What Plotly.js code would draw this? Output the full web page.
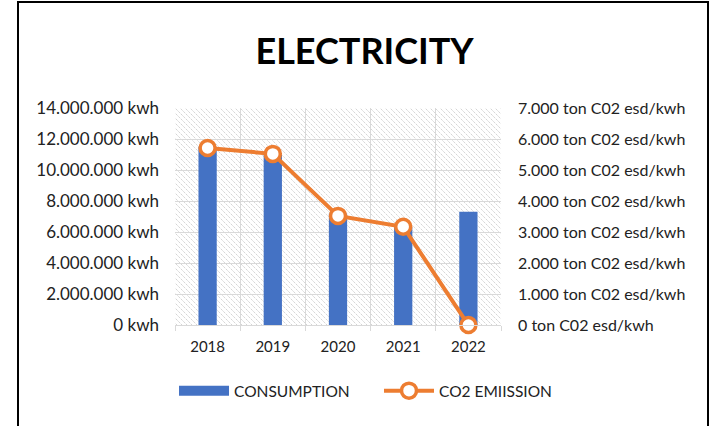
<!DOCTYPE html>
<html>
<head>
<meta charset="utf-8">
<script src="https://cdn.plot.ly/plotly-3.0.1.min.js"></script>
<style>
html,body{margin:0;padding:0;background:#fff;}
#wrap{position:relative;width:712px;height:426px;overflow:hidden;}
#chart{width:712px;height:426px;}
#frame{position:absolute;left:17px;top:1px;width:692px;height:460px;border:2px solid #000;box-sizing:border-box;pointer-events:none;}
</style>
</head>
<body>
<div id="wrap"><div id="chart"></div><div id="frame"></div></div>
<script>
const years = ['2018','2019','2020','2021','2022'];
const consumption = [11500000, 11100000, 7200000, 6300000, 7300000];
const co2 = [5710, 5520, 3520, 3170, 0];
const leftTicks = [0,2000000,4000000,6000000,8000000,10000000,12000000,14000000];
const leftTickText = ['0 kwh','2.000.000 kwh','4.000.000 kwh','6.000.000 kwh','8.000.000 kwh','10.000.000 kwh','12.000.000 kwh','14.000.000 kwh'];
const rightTicks = [0,1000,2000,3000,4000,5000,6000,7000];
const rightTickText = ['0 ton C02 esd/kwh','1.000 ton C02 esd/kwh','2.000 ton C02 esd/kwh','3.000 ton C02 esd/kwh','4.000 ton C02 esd/kwh','5.000 ton C02 esd/kwh','6.000 ton C02 esd/kwh','7.000 ton C02 esd/kwh'];

const blue = '#4472C4';
const orange = '#ED7D31';
const font = 'Lato, "Open Sans", sans-serif';

const svg = '<svg xmlns="http://www.w3.org/2000/svg" width="326" height="217" viewBox="0 0 326 217" preserveAspectRatio="none">' +
  '<defs><pattern id="p" width="5" height="5" patternUnits="userSpaceOnUse">' +
  '<path d="M-1,-1 L6,6 M-1,4 L1,6 M4,-1 L6,1" stroke="#c6c6c6" stroke-width="1" stroke-dasharray="1.4,1.1"/>' +
  '</pattern></defs><rect width="326" height="217" fill="url(#p)"/></svg>';
const img = 'data:image/svg+xml;base64,' + btoa(svg);

const traces = [
  {
    type: 'bar', x: years, y: consumption, name: 'CONSUMPTION',
    marker: {color: blue}, width: 0.28, showlegend: false, yaxis: 'y'
  },
  {
    type: 'scatter', mode: 'lines', x: [null], y: [null], name: 'CONSUMPTION',
    line: {color: blue, width: 10}, showlegend: true, legend: 'legend', hoverinfo: 'skip', yaxis: 'y'
  },
  {
    type: 'scatter', mode: 'lines+markers', x: years, y: co2, name: 'CO2 EMIISSION',
    yaxis: 'y2', cliponaxis: false, legend: 'legend2',
    line: {color: orange, width: 4},
    marker: {size: 15, color: '#ffffff', line: {color: orange, width: 3.5}}
  }
];

const legendBase = {
  orientation: 'h', xref: 'container', yref: 'container',
  xanchor: 'left', y: 0.082, yanchor: 'middle',
  bgcolor: 'rgba(0,0,0,0)',
  font: {family: font, size: 15.5, color: '#222222'},
  itemwidth: 50
};

const layout = {
  width: 712, height: 426,
  margin: {l: 175, r: 211, t: 108, b: 101},
  paper_bgcolor: '#ffffff', plot_bgcolor: 'rgba(0,0,0,0)',
  separators: ',.',
  font: {family: font, size: 16, color: '#222222'},
  title: {
    text: '<b>ELECTRICITY</b>',
    font: {family: font, size: 36, color: '#000000'},
    x: 0.512, xanchor: 'center', y: 0.88, yanchor: 'middle'
  },
  showlegend: true,
  legend: Object.assign({}, legendBase, {x: 0.2444}),
  legend2: Object.assign({}, legendBase, {x: 0.5323}),
  xaxis: {
    type: 'category', tickson: 'boundaries',
    showgrid: true, gridcolor: '#d9d9d9', gridwidth: 1,
    showline: true, linecolor: '#d9d9d9', linewidth: 1,
    ticks: 'outside', ticklen: 5, tickcolor: '#d9d9d9',
    tickfont: {family: font, size: 15, color: '#222222'},
    ticklabelstandoff: 8,
    zeroline: false, fixedrange: true
  },
  yaxis: {
    range: [0, 14000000], tickmode: 'array', tickvals: leftTicks, ticktext: leftTickText,
    showgrid: true, gridcolor: '#d9d9d9', gridwidth: 1, zeroline: false,
    ticks: '', ticklabelstandoff: 15,
    tickfont: {family: font, size: 17, color: '#222222'}, fixedrange: true
  },
  yaxis2: {
    range: [0, 7000], tickmode: 'array', tickvals: rightTicks, ticktext: rightTickText,
    overlaying: 'y', side: 'right', showgrid: false, zeroline: false,
    ticks: '', ticklabelstandoff: 16,
    tickfont: {family: font, size: 16, color: '#222222'}, fixedrange: true
  },
  images: [{
    source: img, xref: 'paper', yref: 'paper', x: 0, y: 1, sizex: 1, sizey: 1,
    xanchor: 'left', yanchor: 'top', sizing: 'stretch', layer: 'below'
  }]
};

Plotly.newPlot('chart', traces, layout, {displayModeBar: false, staticPlot: true});
</script>
</body>
</html>
